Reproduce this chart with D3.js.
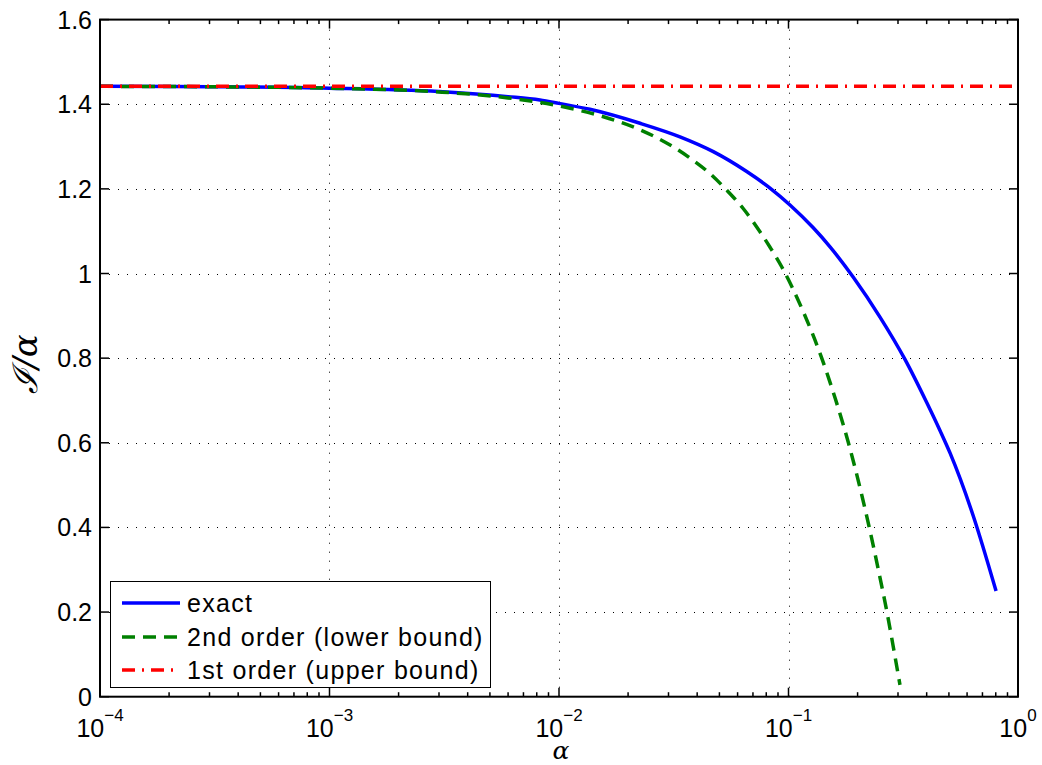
<!DOCTYPE html>
<html><head><meta charset="utf-8">
<script src="https://cdn.jsdelivr.net/npm/d3@7"></script>
<style>body{margin:0;background:#fff}svg{display:block}</style>
</head><body><svg id="c" width="1042" height="765"></svg>
<script>
// ---- data ----
const exactAlpha = [1e-4, 3e-4, 1e-3, 3e-3, 0.006, 0.00826, 0.01, 0.01364, 0.02255, 0.03366, 0.04702, 0.06575, 0.08307, 0.1015, 0.1282, 0.1517, 0.1916, 0.2504, 0.3218, 0.4002, 0.4571, 0.5055, 0.6385, 0.802];
const exactVals  = [1.4426, 1.4414, 1.438, 1.430, 1.418, 1.410, 1.402, 1.388, 1.355, 1.323, 1.288, 1.241, 1.202, 1.162, 1.108, 1.063, 0.991, 0.897, 0.797, 0.695, 0.629, 0.576, 0.427, 0.250];
const secondAlpha = [1e-4, 3e-4, 1e-3, 3e-3, 0.006, 0.01, 0.0155, 0.0225, 0.0315, 0.0372, 0.0455, 0.0538, 0.0636, 0.0727, 0.0831, 0.0934, 0.1155, 0.1396, 0.16, 0.1824, 0.2036, 0.2249, 0.2474, 0.2694, 0.29, 0.306];
const secondVals  = [1.4423, 1.4413, 1.438, 1.429, 1.415, 1.396, 1.371, 1.340, 1.299, 1.273, 1.236, 1.197, 1.153, 1.110, 1.062, 1.016, 0.912, 0.800, 0.704, 0.600, 0.500, 0.400, 0.295, 0.196, 0.100, 0.028];
const firstAlpha = [1e-4, 1];
const firstVals  = [1.4427, 1.4427];
const seriesNames = ["exact", "2nd order (lower bound)", "1st order (upper bound)"];
const yTicks = [0, 0.2, 0.4, 0.6, 0.8, 1, 1.2, 1.4, 1.6];
const yTickLabels = ["0", "0.2", "0.4", "0.6", "0.8", "1", "1.2", "1.4", "1.6"];
const xTickExps = [-4, -3, -2, -1, 0];
const xLabel = "α";
const yLabel = "\u2110/α";

// ---- layout ----
const L = 100, R = 1018, T = 19.6, B = 696.7;
const svg = d3.select("#c");
const x = d3.scaleLog().domain([1e-4, 1]).range([L, R]);
const y = d3.scaleLinear().domain([0, 1.6]).range([B, T]);
const font = "'Liberation Sans', Arial, Helvetica, sans-serif";
const LW = 3.5;

svg.append("defs").append("clipPath").attr("id", "clip")
  .append("rect").attr("x", L).attr("y", T).attr("width", R - L).attr("height", B - T);

// grid
const grid = svg.append("g").attr("stroke", "#000").attr("stroke-width", 1)
  .attr("stroke-dasharray", "1,8").attr("fill", "none");
xTickExps.slice(1, -1).forEach(e => {
  const px = Math.round(x(Math.pow(10, e))) + 0.5;
  grid.append("line").attr("x1", px).attr("x2", px).attr("y1", B).attr("y2", T);
});
yTicks.slice(1, -1).forEach(v => {
  const py = Math.round(y(v)) + 0.5;
  grid.append("line").attr("x1", L).attr("x2", R).attr("y1", py).attr("y2", py);
});

// curves
const line = d3.line().x(d => x(d[0])).y(d => y(d[1])).curve(d3.curveMonotoneX);
const plot = svg.append("g").attr("clip-path", "url(#clip)").attr("fill", "none").attr("stroke-width", LW);
plot.append("path").datum(d3.zip(exactAlpha, exactVals)).attr("d", line).attr("stroke", "#0000ff");
plot.append("path").datum(d3.zip(secondAlpha, secondVals)).attr("d", line).attr("stroke", "#008000").attr("stroke-dasharray", "13,8");
plot.append("path").datum(d3.zip(firstAlpha, firstVals)).attr("d", d3.line().x(d => x(d[0])).y(d => y(d[1]))).attr("stroke", "#ff0000").attr("stroke-dasharray", "13,7,2,7");

// axes (box with inward ticks on all sides)
const ax = svg.append("g").attr("stroke", "#000").attr("fill", "none");
ax.append("rect").attr("x", L).attr("y", T).attr("width", R - L).attr("height", B - T).attr("stroke-width", 2);
const minor = [];
for (let e = -4; e < 0; e++) for (let k = 2; k <= 9; k++) minor.push(k * Math.pow(10, e));
minor.forEach(v => {
  const px = x(v);
  ax.append("line").attr("x1", px).attr("x2", px).attr("y1", B).attr("y2", B - 4.5).attr("stroke-width", 1.5);
  ax.append("line").attr("x1", px).attr("x2", px).attr("y1", T).attr("y2", T + 4.5).attr("stroke-width", 1.5);
});
xTickExps.forEach(e => {
  const px = x(Math.pow(10, e));
  ax.append("line").attr("x1", px).attr("x2", px).attr("y1", B).attr("y2", B - 9).attr("stroke-width", 1.5);
  ax.append("line").attr("x1", px).attr("x2", px).attr("y1", T).attr("y2", T + 9).attr("stroke-width", 1.5);
});
yTicks.forEach(v => {
  const py = y(v);
  ax.append("line").attr("x1", L).attr("x2", L + 9).attr("y1", py).attr("y2", py).attr("stroke-width", 1.5);
  ax.append("line").attr("x1", R).attr("x2", R - 9).attr("y1", py).attr("y2", py).attr("stroke-width", 1.5);
});

// y tick labels
svg.append("g").selectAll("text").data(yTicks).join("text")
  .attr("x", L - 8).attr("y", d => y(d)).attr("dy", "0.36em")
  .attr("text-anchor", "end").attr("font-family", font).attr("font-size", 25)
  .text((d, i) => yTickLabels[i]);

// x tick labels 10^e
xTickExps.forEach(e => {
  const t = svg.append("text").attr("font-family", font).attr("font-size", 25)
    .attr("y", 737).attr("text-anchor", "middle").attr("x", x(Math.pow(10, e)));
  t.append("tspan").text("10");
  t.append("tspan").attr("font-size", 17).attr("dy", -16).text(e === 0 ? "0" : "\u2212" + Math.abs(e));
});

// axis labels
svg.append("text").attr("x", 561).attr("y", 759).attr("text-anchor", "middle")
  .attr("font-family", "'DejaVu Serif', serif").attr("font-style", "italic").attr("font-size", 25).text(xLabel);
svg.append("text").attr("transform", "translate(37,364) rotate(-90)").attr("text-anchor", "middle")
  .attr("font-family", "'DejaVu Serif', serif").attr("font-style", "italic").attr("font-size", 34)
  .text(yLabel);

// legend
const lg = svg.append("g");
lg.append("rect").attr("x", 110.5).attr("y", 581.5).attr("width", 380).attr("height", 106)
  .attr("fill", "#fff").attr("stroke", "#000").attr("stroke-width", 1);
const styles = [
  {c: "#0000ff", d: null},
  {c: "#008000", d: "13,8"},
  {c: "#ff0000", d: "13,7,2,7"}
];
const rowsY = [603, 637, 670];
seriesNames.forEach((n, i) => {
  lg.append("line").attr("x1", 122).attr("x2", 180).attr("y1", rowsY[i]).attr("y2", rowsY[i])
    .attr("stroke", styles[i].c).attr("stroke-width", LW).attr("stroke-dasharray", styles[i].d);
  lg.append("text").attr("x", 187).attr("y", rowsY[i]).attr("dy", "0.36em")
    .attr("font-family", font).attr("font-size", 25).attr("letter-spacing", 1.3).text(n);
});
</script></body></html>
